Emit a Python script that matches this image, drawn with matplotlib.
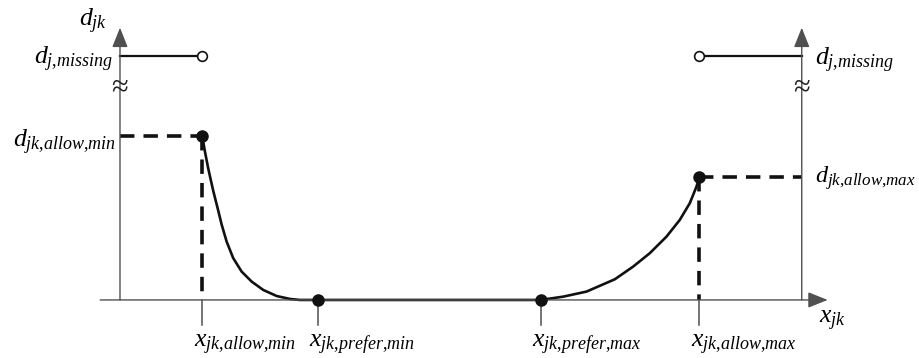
import matplotlib.pyplot as plt

plt.rcParams['mathtext.fontset'] = 'custom'
plt.rcParams['mathtext.it'] = 'Liberation Serif:italic'
plt.rcParams['mathtext.rm'] = 'Liberation Serif'
plt.rcParams['font.family'] = 'Liberation Serif'

## Key positions on the x axis
x_allow_min = 1.21
x_prefer_min = 2.90
x_prefer_max = 6.17
x_allow_max = 8.50
x_right = 10.0

## Distance levels
d_allow_min = 1.0
d_allow_max = 0.75
d_missing = 1.488
y_break = 1.29

## Penalty curve below the preferred range
left_x = [1.207, 1.246, 1.295, 1.368, 1.441, 1.491, 1.565, 1.661, 1.784, 1.931,
          2.101, 2.298, 2.493, 2.639, 2.90]
left_y = [1.0, 0.905, 0.800, 0.665, 0.545, 0.460, 0.355, 0.255, 0.173, 0.112,
          0.061, 0.024, 0.006, 0.0, 0.0]

## Penalty curve above the preferred range
right_x = [2.90, 6.17, 6.50, 6.843, 7.258, 7.526, 7.771, 8.016, 8.211, 8.358, 8.456, 8.50]
right_y = [0.0, 0.0, 0.020, 0.051, 0.126, 0.203, 0.285, 0.386, 0.488, 0.590, 0.691, 0.75]

tick_pos = [x_allow_min, x_prefer_min, x_prefer_max, x_allow_max]
tick_text = [r'$x_{jk{,}allow{,}min}$', r'$x_{jk{,}prefer{,}min}$',
             r'$x_{jk{,}prefer{,}max}$', r'$x_{jk{,}allow{,}max}$']

fig = plt.figure(figsize=(9.19, 3.58), dpi=100)
ax = fig.add_axes([0, 0, 1, 1])
ax.set_xlim(-1.76, 11.72)
ax.set_ylim(-0.354, 1.829)
ax.axis('off')

axis_col = '#505050'
fs = 18.5

## Axes with arrow heads
arrow = dict(arrowstyle='-|>,head_length=0.55,head_width=0.22', mutation_scale=22, lw=1.0,
             color=axis_col, shrinkA=0, shrinkB=0)
ax.annotate('', xy=(10.38, 0), xytext=(-0.29, 0), arrowprops=arrow)
ax.annotate('', xy=(0, 1.66), xytext=(0, 0), arrowprops=arrow)
ax.annotate('', xy=(x_right, 1.66), xytext=(x_right, 0), arrowprops=arrow)

## Axis breaks
for xb in [0, x_right]:
    ax.text(xb, y_break, '≈', ha='center', va='center', fontsize=22, color='#222222')

## Tick marks and labels
for xp, lab in zip(tick_pos, tick_text):
    ax.plot([xp, xp], [0, -0.152], color=axis_col, lw=1.1)
    ax.text(xp - 0.13, -0.287, lab, ha='left', va='baseline', fontsize=fs)

## Missing-value levels
ax.plot([0, x_allow_min], [d_missing, d_missing], color='#111111', lw=1.6)
ax.plot([x_allow_max, x_right], [d_missing, d_missing], color='#111111', lw=1.6)
ax.plot([x_allow_min, x_allow_max], [d_missing, d_missing], 'o', ms=7,
        mfc='white', mec='#111111', mew=1.2, zorder=5)

## Dashed guide lines
dash = dict(color='#111111', lw=2.6, dashes=(4, 2.5))
ax.plot([0, x_allow_min], [d_allow_min, d_allow_min], **dash)
ax.plot([x_allow_min, x_allow_min], [d_allow_min, 0], **dash)
ax.plot([x_allow_max, x_right], [d_allow_max, d_allow_max], **dash)
ax.plot([x_allow_max, x_allow_max], [d_allow_max, 0], **dash)

## Distance curves
ax.plot(left_x, left_y, color='#111111', lw=1.9, solid_capstyle='round', solid_joinstyle='round')
ax.plot(right_x, right_y, color='#111111', lw=1.9, solid_capstyle='round', solid_joinstyle='round')
ax.plot([x_allow_min, x_prefer_min, x_prefer_max, x_allow_max],
        [d_allow_min, 0, 0, d_allow_max], 'o', ms=8, color='#111111', zorder=6)

## Axis labels
ax.text(-0.19, 1.665, r'$d_{jk}$', ha='right', va='baseline', fontsize=fs)
ax.text(10.26, -0.146, r'$x_{jk}$', ha='left', va='baseline', fontsize=fs)
ax.text(-0.10, 1.439, r'$d_{j{,}missing}$', ha='right', va='baseline', fontsize=fs)
ax.text(-0.05, 0.933, r'$d_{jk{,}allow{,}min}$', ha='right', va='baseline', fontsize=fs)
ax.text(10.20, 1.433, r'$d_{j{,}missing}$', ha='left', va='baseline', fontsize=fs)
ax.text(10.20, 0.713, r'$d_{jk{,}allow{,}max}$', ha='left', va='baseline', fontsize=17.5)

fig.savefig('out.png', dpi=100)
